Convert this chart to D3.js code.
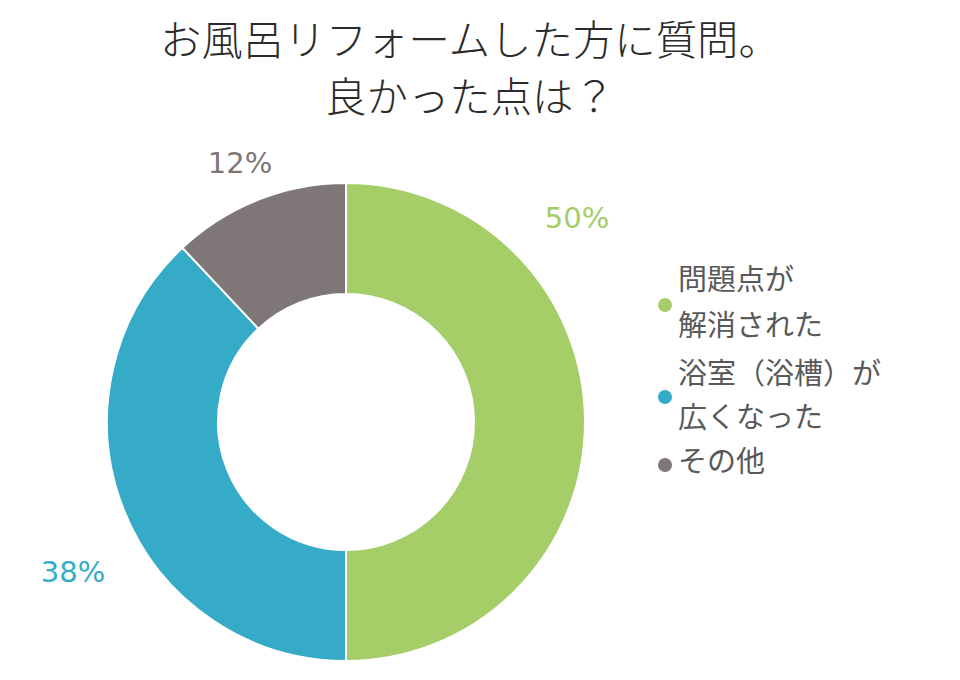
<!DOCTYPE html>
<html><head><meta charset="utf-8">
<script src="https://cdn.jsdelivr.net/npm/d3@7"></script>
<style>body{margin:0;background:#fff}</style>
</head><body>
<svg id="c" width="960" height="680"></svg>
<script>
const titleLines = ["お風呂リフォームした方に質問。", "良かった点は？"];
const categories = ["問題点が解消された", "浴室（浴槽）が広くなった", "その他"];
const legendLines = [["問題点が", "解消された"], ["浴室（浴槽）が", "広くなった"], ["その他"]];
const values = [50, 38, 12];
const valueLabels = ["50%", "38%", "12%"];
const colors = ["#a5cd68", "#35abc8", "#7f7777"];

const svg = d3.select("#c");
const font = "'Noto Sans CJK JP', sans-serif";

// title, fitted to the reference width
const titleSel = svg.selectAll("text.title").data(titleLines).join("text")
  .attr("class", "title")
  .attr("x", 470).attr("y", (d, i) => 55 + i * 57)
  .attr("text-anchor", "middle")
  .attr("font-family", font).attr("font-size", 36).attr("font-weight", 300).attr("fill", "#2b2b2b")
  .text(d => d);
const w0 = titleSel.node().getComputedTextLength();
const fs = 36 * 620 / w0;
titleSel.attr("font-size", Math.min(fs, 44));

const cx = 346, cy = 422, R = 239, r = 128;
const pie = d3.pie().sort(null).value(d => d);
const arc = d3.arc().innerRadius(r).outerRadius(R);
const g = svg.append("g").attr("transform", `translate(${cx},${cy})`);
const arcs = pie(values);
g.selectAll("path").data(arcs).join("path")
  .attr("d", arc).attr("fill", (d, i) => colors[i])
  .attr("stroke", "#fff").attr("stroke-width", 2);

// percent label anchors (layout, relative to the donut centre)
const labelAnchor = [[231, -194], [-273, 160], [-106, -249]];
g.selectAll("text.pct").data(arcs).join("text")
  .attr("class", "pct")
  .attr("x", (d, i) => labelAnchor[i][0])
  .attr("y", (d, i) => labelAnchor[i][1])
  .attr("text-anchor", "middle")
  .attr("font-family", "'DejaVu Sans', sans-serif").attr("font-size", 29)
  .attr("fill", (d, i) => colors[i])
  .text((d, i) => valueLabels[i]);

// legend
const lx = 665, tx = 678;
const legendY = [[290, 336], [384, 428], [472]];
const markerY = [305, 397, 465];
legendLines.forEach((lines, i) => {
  svg.append("circle").attr("cx", lx).attr("cy", markerY[i]).attr("r", 7).attr("fill", colors[i]);
  lines.forEach((t, j) => {
    svg.append("text").attr("x", tx).attr("y", legendY[i][j])
      .attr("font-family", font).attr("font-size", 29).attr("fill", "#595959")
      .text(t);
  });
});
</script>
</body></html>
